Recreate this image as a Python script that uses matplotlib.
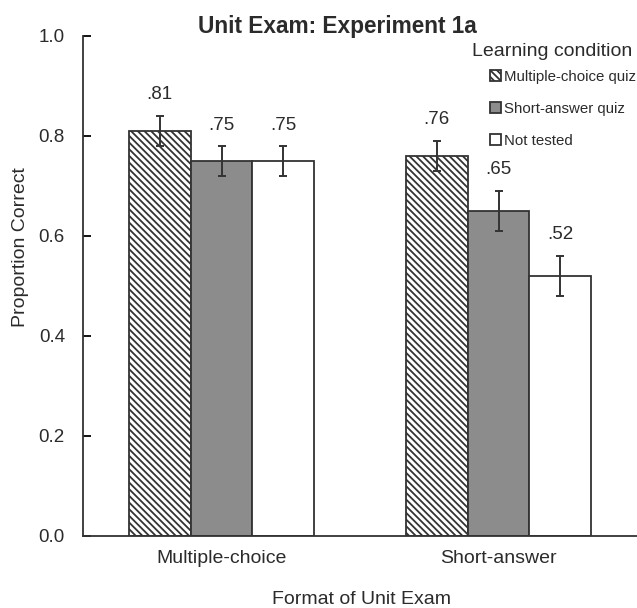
import matplotlib
matplotlib.use("Agg")
import matplotlib.pyplot as plt
import numpy as np

plt.rcParams['font.family'] = ['Liberation Sans', 'DejaVu Sans']
plt.rcParams['hatch.linewidth'] = 1.3

categories = ["Multiple-choice", "Short-answer"]
conditions = ["Multiple-choice quiz", "Short-answer quiz", "Not tested"]
values = {
    "Multiple-choice quiz": [0.81, 0.76],
    "Short-answer quiz": [0.75, 0.65],
    "Not tested": [0.75, 0.52],
}
errors = {
    "Multiple-choice quiz": [0.03, 0.03],
    "Short-answer quiz": [0.03, 0.04],
    "Not tested": [0.03, 0.04],
}
labels = {
    "Multiple-choice quiz": [".81", ".76"],
    "Short-answer quiz": [".75", ".65"],
    "Not tested": [".75", ".52"],
}
yticks = [0.0, 0.2, 0.4, 0.6, 0.8, 1.0]

styles = {
    "Multiple-choice quiz": dict(facecolor="white", hatch="\\\\\\\\\\"),
    "Short-answer quiz": dict(facecolor="#8c8c8c", hatch=None),
    "Not tested": dict(facecolor="white", hatch=None),
}
TXT = "#2b2b2b"
W, H = 637, 608

fig = plt.figure(figsize=(W / 100, H / 100), dpi=100)
ax = fig.add_axes([83 / W, 72 / H, 554 / W, 500 / H])

w = 0.223
x = np.arange(len(categories))
for i, c in enumerate(conditions):
    xs = x + (i - 1) * w
    ax.bar(xs, values[c], width=w, edgecolor="#333333", linewidth=1.3,
           label=c, **styles[c])
    ax.errorbar(xs, values[c], yerr=errors[c], fmt="none", ecolor="#333333",
                elinewidth=1.4, capsize=3, capthick=1.4)
    for xi, v, e, lab in zip(xs, values[c], errors[c], labels[c]):
        ax.text(xi, v + e + 0.025, lab, ha="center", va="bottom", fontsize=13.5,
                color=TXT)

ax.set_xlim(-0.5, 1.5)
ax.set_ylim(0, 1.0)
ax.set_yticks(yticks)
ax.set_yticklabels([f"{t:.1f}" for t in yticks], fontsize=13.5, color=TXT)
ax.set_xticks(x)
ax.set_xticklabels(categories, fontsize=14, color=TXT)
ax.tick_params(axis="x", length=0, pad=10)
ax.tick_params(axis="y", length=6, width=1.3, pad=13, direction="in")
for s in ["top", "right"]:
    ax.spines[s].set_visible(False)
for s in ["left", "bottom"]:
    ax.spines[s].set_linewidth(1.3)
    ax.spines[s].set_color("#333333")

fig.text(21 / W, 1 - 247 / H, "Proportion Correct", rotation=90, ha="center",
         va="center", fontsize=14, color=TXT)
fig.text(361 / W, 1 - 599 / H, "Format of Unit Exam", ha="center",
         va="center", fontsize=14, color=TXT)
fig.text(337 / W, 1 - 26 / H, "Unit Exam: Experiment 1a", ha="center",
         va="center", fontsize=16.3, fontweight="bold", color=TXT)
fig.text(472 / W, 1 - 52 / H, "Learning condition", ha="left",
         va="center", fontsize=14, color=TXT)

leg = ax.legend(loc="upper left", bbox_to_anchor=(490 / W, 1 - 70 / H),
                bbox_transform=fig.transFigure, frameon=False, fontsize=10.8,
                handlelength=0.75, handleheight=0.75, handletextpad=0.15,
                labelspacing=1.2, borderpad=0, borderaxespad=0)
for t in leg.get_texts():
    t.set_color(TXT)

fig.savefig("out.png", dpi=100, facecolor="white")
